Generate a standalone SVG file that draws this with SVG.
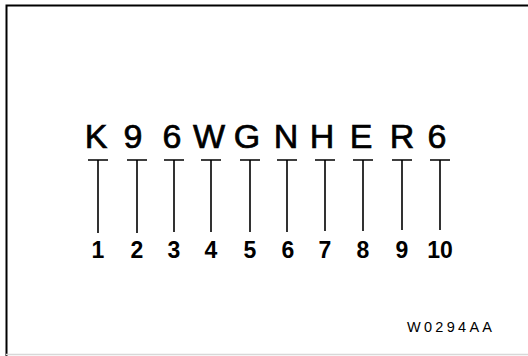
<svg xmlns="http://www.w3.org/2000/svg" width="528" height="356" viewBox="0 0 528 356">
<style>
.frame{fill:none;stroke:#000;stroke-width:2}
.letter{font-family:"Liberation Sans",Arial,sans-serif;font-size:34px;fill:#000;stroke:#000;stroke-width:0.7;text-anchor:middle}
.num{font-family:"Liberation Sans",Arial,sans-serif;font-size:23px;font-weight:bold;fill:#000;text-anchor:middle}
.tick{fill:none;stroke:#000;stroke-width:1.6}
.code{font-family:"Liberation Sans",Arial,sans-serif;font-size:14.5px;fill:#000}
</style>
<rect width="528" height="356" fill="#fff"/>
<path class="frame" d="M6.5,356 V5.5 H528"/>
<line x1="6" y1="354.5" x2="528" y2="354.5" stroke="#d8d8d8" stroke-width="1.5"/>
<g id="letters">
<text class="letter" x="96" y="148">K</text>
<text class="letter" x="133" y="148">9</text>
<text class="letter" x="172" y="148">6</text>
<text class="letter" x="209" y="148">W</text>
<text class="letter" x="247" y="148">G</text>
<text class="letter" x="286" y="148">N</text>
<text class="letter" x="322" y="148">H</text>
<text class="letter" x="361" y="148">E</text>
<text class="letter" x="402" y="148">R</text>
<text class="letter" x="437" y="148">6</text>
</g>
<g id="connectors">
<path class="tick" d="M88,160H108M98,160V233"/>
<path class="tick" d="M127,160H147M137,160V233"/>
<path class="tick" d="M164,160H184M174,160V232"/>
<path class="tick" d="M201,160H221M211,160V232"/>
<path class="tick" d="M240,160H260M250,160V232"/>
<path class="tick" d="M277,160H297M287,160V232"/>
<path class="tick" d="M315,160H335M325,160V231"/>
<path class="tick" d="M353,160H373M363,160V231"/>
<path class="tick" d="M392,160H412M402,160V230"/>
<path class="tick" d="M430,160H450M440,160V230"/>
</g>
<g id="numbers">
<text class="num" x="98" y="258">1</text>
<text class="num" x="137" y="258">2</text>
<text class="num" x="174" y="258">3</text>
<text class="num" x="211" y="258">4</text>
<text class="num" x="250" y="258">5</text>
<text class="num" x="288" y="258">6</text>
<text class="num" x="325" y="258">7</text>
<text class="num" x="363" y="258">8</text>
<text class="num" x="402" y="258">9</text>
<text class="num" x="440" y="258">10</text>
</g>
<text id="code" class="code" x="407" y="332" textLength="85" lengthAdjust="spacing">W0294AA</text>
</svg>
